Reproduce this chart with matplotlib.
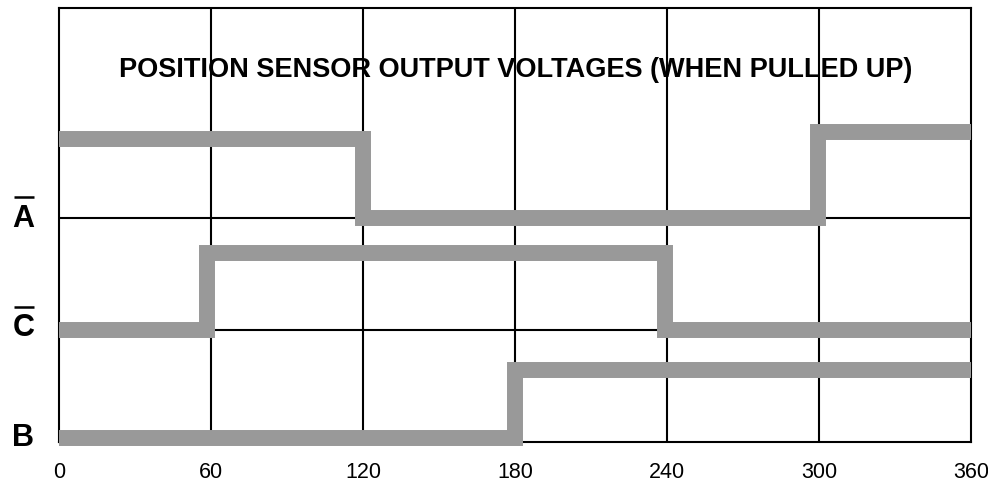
import matplotlib
matplotlib.use("Agg")
import matplotlib.pyplot as plt

plt.rcParams['font.family'] = ['Liberation Sans', 'DejaVu Sans']

# rotor angle (deg) where each sensor output switches, and the level held after it
edgesA = [0, 119.7, 299.5, 360]
levelsA = [2.71, 2.00, 2.77]
edgesC = [0, 58.4, 239.0, 360]
levelsC = [1.00, 1.69, 1.00]
edgesB = [0, 180, 360]
levelsB = [0.03, 0.64]

xticks = [0, 60, 120, 180, 240, 300, 360]
rowNames = ['A', 'C', 'B']
rowBase = [1.925, 0.946, -0.036]
rowBar = [2.189, 1.204, None]   # inverted signals get a bar over the letter
title = "POSITION SENSOR OUTPUT VOLTAGES (WHEN PULLED UP)"


def stepXY(edges, levels):
    xs, ys = [], []
    for i in range(len(levels)):
        xs += [edges[i], edges[i + 1]]
        ys += [levels[i], levels[i]]
    return xs, ys


fig = plt.figure(figsize=(9.88, 4.84), dpi=100)
ax = fig.add_axes([0.0602, 0.0874, 0.9226, 0.8961])
ax.set_xlim(0, 360)
ax.set_ylim(0, 3.883)

for x in xticks[1:-1]:
    ax.axvline(x, color='black', lw=1.5, zorder=1)
for y in [1, 2]:
    ax.axhline(y, color='black', lw=1.5, zorder=1)

for edges, levels in [(edgesA, levelsA), (edgesC, levelsC), (edgesB, levelsB)]:
    xs, ys = stepXY(edges, levels)
    ax.plot(xs, ys, color='#999999', lw=11.5, solid_joinstyle='miter',
            solid_capstyle='butt', zorder=3, clip_on=False)

for spine in ax.spines.values():
    spine.set_linewidth(1.5)
    spine.set_zorder(2)

ax.set_xticks(xticks)
ax.set_xticklabels([str(t) for t in xticks])
ax.tick_params(axis='x', length=0, pad=14.5, labelsize=15.5)
ax.set_yticks([])

ax.text(0.5008, 0.842, title, transform=ax.transAxes, ha='center',
        va='baseline', fontsize=19.5, fontweight='bold', zorder=0)

for name, yb, bar in zip(rowNames, rowBase, rowBar):
    ax.text(-14.3, yb, name, ha='center', va='baseline', fontsize=22,
            fontweight='bold', clip_on=False)
    if bar is not None:
        ax.plot([-18.1, -10.2], [bar, bar], color='black', lw=1.8,
                solid_capstyle='butt', clip_on=False)

fig.savefig("out.png", dpi=100)
plt.close(fig)
